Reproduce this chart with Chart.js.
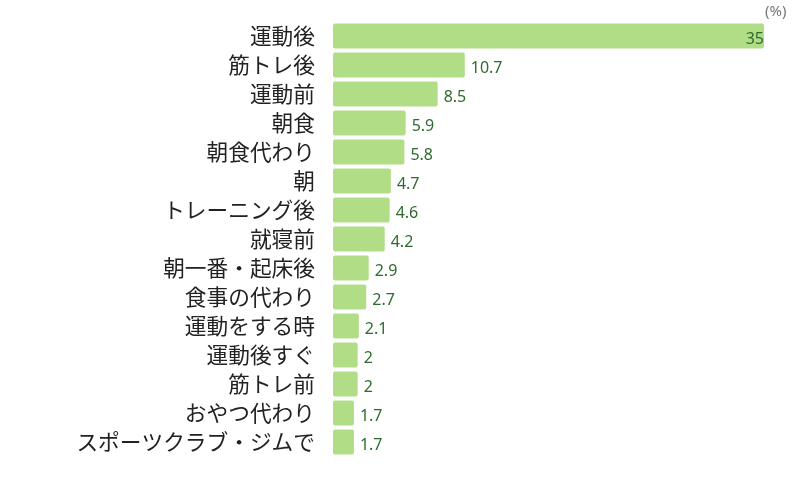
<!DOCTYPE html>
<html>
<head>
<meta charset="utf-8">
<script src="https://cdn.jsdelivr.net/npm/chart.js@4"></script>
<style>
  html, body { margin: 0; padding: 0; background: #fff; }
  #wrap { position: relative; width: 800px; height: 480px; }
</style>
</head>
<body>
<div id="wrap"><canvas id="chart" width="800" height="480"></canvas></div>
<script>
const categories = [
  "運動後", "筋トレ後", "運動前", "朝食", "朝食代わり", "朝", "トレーニング後",
  "就寝前", "朝一番・起床後", "食事の代わり", "運動をする時", "運動後すぐ",
  "筋トレ前", "おやつ代わり", "スポーツクラブ・ジムで"
];
const shares = [35, 10.7, 8.5, 5.9, 5.8, 4.7, 4.6, 4.2, 2.9, 2.7, 2.1, 2, 2, 1.7, 1.7];
const unitLabel = "(%)";

const BAR_COLOR = "#b1dd87";
const VALUE_COLOR = "#2d6b30";

// value labels at bar ends, plus the unit label in the corner
const valueLabels = {
  id: "valueLabels",
  afterDatasetsDraw(chart) {
    const { ctx, chartArea } = chart;
    const meta = chart.getDatasetMeta(0);
    ctx.save();
    ctx.font = "16px 'Noto Sans', 'Open Sans', sans-serif";
    ctx.fillStyle = VALUE_COLOR;
    ctx.textBaseline = "middle";
    meta.data.forEach((bar, i) => {
      const txt = String(shares[i]);
      const w = ctx.measureText(txt).width;
      if (bar.x + 6 + w > chartArea.right + 20) {
        ctx.textAlign = "right";
        ctx.fillText(txt, bar.x, bar.y + 3);
      } else {
        ctx.textAlign = "left";
        ctx.fillText(txt, bar.x + 6, bar.y + 3);
      }
    });
    ctx.font = "15px 'Noto Sans', sans-serif";
    ctx.fillStyle = "#777";
    ctx.textAlign = "left";
    ctx.fillText(unitLabel, 765, 12);
    ctx.restore();
  }
};

const chart = new Chart(document.getElementById("chart"), {
  type: "bar",
  data: {
    labels: categories,
    datasets: [{
      data: shares,
      backgroundColor: BAR_COLOR,
      borderRadius: 2,
      borderSkipped: false,
      barPercentage: 0.86,
      categoryPercentage: 1.0
    }]
  },
  plugins: [valueLabels],
  options: {
    indexAxis: "y",
    responsive: false,
    animation: false,
    layout: { padding: { top: 21.5, bottom: 23.5, right: 36, left: 0 } },
    plugins: { legend: { display: false }, tooltip: { enabled: false } },
    scales: {
      x: { display: false, min: 0, max: 35 },
      y: {
        grid: { display: false },
        border: { display: false },
        ticks: {
          color: "#222",
          padding: 10,
          autoSkip: false,
          font: { size: 21.7, family: "'Noto Sans CJK JP', 'Noto Sans', sans-serif" }
        },
        afterFit(scale) {
          scale.width = 333;
          scale.paddingTop = 0;
          scale.paddingBottom = 0;
        }
      }
    }
  }
});
</script>
</body>
</html>
